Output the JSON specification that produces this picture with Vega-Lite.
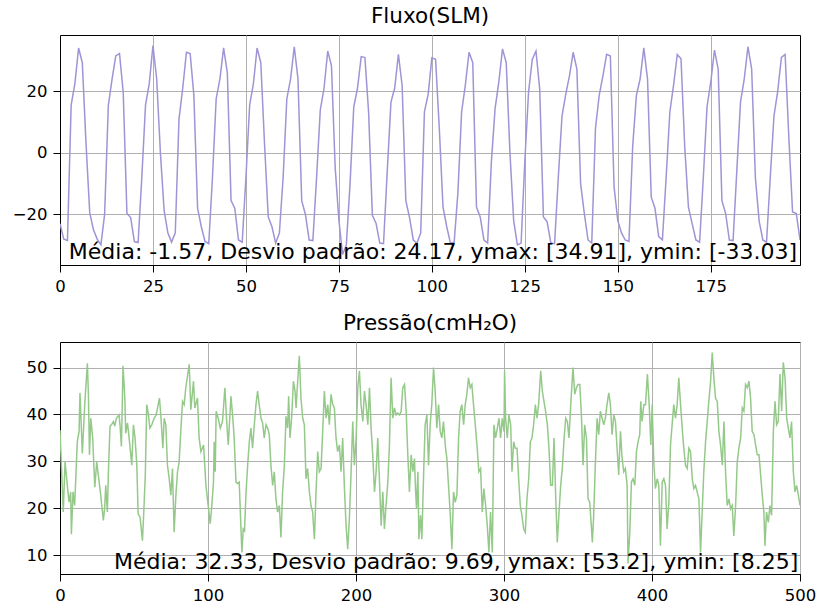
{
 "$schema": "https://vega.github.io/schema/vega-lite/v6.json",
 "padding": {"left": 11, "top": 5, "right": 10, "bottom": 5},
 "spacing": 17,
 "config": {
  "font": "DejaVu Sans",
  "view": {"stroke": "black", "strokeWidth": 1},
  "axis": {"labelFont": "DejaVu Sans", "labelFontSize": 16.5, "labelColor": "black", "tickColor": "black", "domainColor": "black", "tickSize": 7, "labelPadding": 6, "gridColor": "#b0b0b0", "gridWidth": 1, "domainWidth": 1, "tickWidth": 1, "labelFlush": false, "labelOverlap": false},
  "title": {"font": "DejaVu Sans", "fontSize": 21.5, "fontWeight": "normal", "color": "black", "offset": 8}
 },
 "datasets": {
  "fluxo": [
   {"t":0,"v":-23},{"t":1,"v":-28},{"t":2,"v":-28.5},{"t":3,"v":15.5},{"t":4,"v":22.5},{"t":5,"v":34.1},{"t":6,"v":29.3},{"t":7,"v":3},{"t":8,"v":-19.5},{"t":9,"v":-25},
   {"t":10,"v":-28},{"t":11,"v":-29.9},{"t":12,"v":-20},{"t":13,"v":15.5},{"t":14,"v":24},{"t":15,"v":31.5},{"t":16,"v":32.3},{"t":17,"v":19.7},{"t":18,"v":-19.7},{"t":19,"v":-21},
   {"t":20,"v":-28.8},{"t":21,"v":-29.1},{"t":22,"v":-8},{"t":23,"v":15.5},{"t":24,"v":22.5},{"t":25,"v":34.91},{"t":26,"v":24},{"t":27,"v":0},{"t":28,"v":-18.7},{"t":29,"v":-26},
   {"t":30,"v":-29},{"t":31,"v":-26},{"t":32,"v":11},{"t":33,"v":21},{"t":34,"v":32.7},{"t":35,"v":32.3},{"t":36,"v":18.7},{"t":37,"v":-18},{"t":38,"v":-24},{"t":39,"v":-28.8},
   {"t":40,"v":-29.5},{"t":41,"v":-8},{"t":42,"v":17.6},{"t":43,"v":24},{"t":44,"v":34.1},{"t":45,"v":26},{"t":46,"v":-15.5},{"t":47,"v":-18},{"t":48,"v":-28.3},{"t":49,"v":-29},
   {"t":50,"v":-8},{"t":51,"v":15.5},{"t":52,"v":22.4},{"t":53,"v":34.1},{"t":54,"v":29.3},{"t":55,"v":3},{"t":56,"v":-20.8},{"t":57,"v":-24},{"t":58,"v":-29.3},{"t":59,"v":-26},
   {"t":60,"v":-8},{"t":61,"v":17.6},{"t":62,"v":24},{"t":63,"v":34.5},{"t":64,"v":24},{"t":65,"v":-15.5},{"t":66,"v":-20},{"t":67,"v":-28.3},{"t":68,"v":-28.5},{"t":69,"v":-8},
   {"t":70,"v":14},{"t":71,"v":21},{"t":72,"v":33.1},{"t":73,"v":28.3},{"t":74,"v":-4.8},{"t":75,"v":-21.9},{"t":76,"v":-33.03},{"t":77,"v":-29.9},{"t":78,"v":-10},{"t":79,"v":15},
   {"t":80,"v":21},{"t":81,"v":31.3},{"t":82,"v":31},{"t":83,"v":13},{"t":84,"v":-20.3},{"t":85,"v":-22.9},{"t":86,"v":-29.3},{"t":87,"v":-29.5},{"t":88,"v":-6},{"t":89,"v":16.5},
   {"t":90,"v":21},{"t":91,"v":32},{"t":92,"v":22},{"t":93,"v":-15.5},{"t":94,"v":-21},{"t":95,"v":-28.3},{"t":96,"v":-29.3},{"t":97,"v":-26},{"t":98,"v":13.3},{"t":99,"v":19},
   {"t":100,"v":30.9},{"t":101,"v":30.4},{"t":102,"v":8},{"t":103,"v":-17.6},{"t":104,"v":-24},{"t":105,"v":-29.3},{"t":106,"v":-29},{"t":107,"v":-13},{"t":108,"v":13.3},{"t":109,"v":22},
   {"t":110,"v":32.7},{"t":111,"v":29.3},{"t":112,"v":-17.6},{"t":113,"v":-20.8},{"t":114,"v":-28.3},{"t":115,"v":-29.3},{"t":116,"v":-3},{"t":117,"v":14.4},{"t":118,"v":23},{"t":119,"v":33.8},
   {"t":120,"v":29.3},{"t":121,"v":0},{"t":122,"v":-22},{"t":123,"v":-29.9},{"t":124,"v":-29.3},{"t":125,"v":-2.7},{"t":126,"v":19.7},{"t":127,"v":30.4},{"t":128,"v":33.1},{"t":129,"v":20.8},
   {"t":130,"v":-20.8},{"t":131,"v":-22.4},{"t":132,"v":-29.3},{"t":133,"v":-29.5},{"t":134,"v":-8},{"t":135,"v":12},{"t":136,"v":19},{"t":137,"v":25},{"t":138,"v":32.7},{"t":139,"v":27.2},
   {"t":140,"v":-10},{"t":141,"v":-19.7},{"t":142,"v":-28.3},{"t":143,"v":-29.3},{"t":144,"v":8},{"t":145,"v":18.7},{"t":146,"v":25},{"t":147,"v":32},{"t":148,"v":31.5},{"t":149,"v":-11},
   {"t":150,"v":-22},{"t":151,"v":-26},{"t":152,"v":-28.3},{"t":153,"v":-28.8},{"t":154,"v":2},{"t":155,"v":18.7},{"t":156,"v":24},{"t":157,"v":34.1},{"t":158,"v":24},{"t":159,"v":-14.4},
   {"t":160,"v":-18},{"t":161,"v":-27.2},{"t":162,"v":-28.3},{"t":163,"v":-8},{"t":164,"v":13.3},{"t":165,"v":22},{"t":166,"v":32},{"t":167,"v":30.6},{"t":168,"v":2},{"t":169,"v":-17.6},
   {"t":170,"v":-23},{"t":171,"v":-28.3},{"t":172,"v":-29},{"t":173,"v":-8},{"t":174,"v":15},{"t":175,"v":23},{"t":176,"v":33.4},{"t":177,"v":27.2},{"t":178,"v":-15.5},{"t":179,"v":-19.7},
   {"t":180,"v":-28.3},{"t":181,"v":-28.5},{"t":182,"v":-6},{"t":183,"v":16.5},{"t":184,"v":24},{"t":185,"v":34.5},{"t":186,"v":27.2},{"t":187,"v":-8},{"t":188,"v":-22},{"t":189,"v":-28.3},
   {"t":190,"v":-29},{"t":191,"v":-8},{"t":192,"v":12},{"t":193,"v":20},{"t":194,"v":31},{"t":195,"v":32},{"t":196,"v":5},{"t":197,"v":-19.2},{"t":198,"v":-19.7},{"t":199,"v":-28.3}
  ],
  "pressao": [
   {"t":0,"v":36.7},{"t":2.2,"v":19.2},{"t":3.4,"v":29.9},{"t":5.4,"v":23.5},{"t":6.1,"v":21.3},{"t":7.2,"v":23.5},{"t":7.7,"v":14.5},{"t":8.8,"v":23.5},{"t":9.9,"v":20.6},{"t":11.7,"v":34.2},
   {"t":12.9,"v":36.4},{"t":13.5,"v":44.6},{"t":15.1,"v":31.7},{"t":16.7,"v":42.1},{"t":18.5,"v":50.9},{"t":19.2,"v":44.3},{"t":19.9,"v":31.4},{"t":20.8,"v":39.2},{"t":22.1,"v":35.0},{"t":23.5,"v":24.5},
   {"t":24.8,"v":29.9},{"t":26.2,"v":26.3},{"t":27.5,"v":22.8},{"t":29.3,"v":17.4},{"t":30.2,"v":20.2},{"t":30.9,"v":24.9},{"t":32.0,"v":19.2},{"t":32.7,"v":27.8},{"t":33.8,"v":37.5},{"t":34.7,"v":37.8},
   {"t":36.1,"v":38.5},{"t":37.0,"v":37.5},{"t":38.1,"v":39.2},{"t":39.9,"v":39.9},{"t":40.6,"v":37.5},{"t":41.5,"v":33.2},{"t":42.6,"v":50.4},{"t":43.8,"v":43.5},{"t":44.4,"v":36.0},{"t":45.6,"v":38.2},
   {"t":46.7,"v":35.0},{"t":48.5,"v":29.2},{"t":49.6,"v":37.8},{"t":50.7,"v":35.0},{"t":51.9,"v":29.2},{"t":52.8,"v":18.8},{"t":54.1,"v":18.1},{"t":55.7,"v":13.1},{"t":56.8,"v":20.6},{"t":57.7,"v":27.8},
   {"t":58.6,"v":42.1},{"t":59.8,"v":39.9},{"t":60.7,"v":37.1},{"t":62.0,"v":37.8},{"t":63.6,"v":39.2},{"t":65.0,"v":39.9},{"t":67.2,"v":43.5},{"t":68.1,"v":39.9},{"t":69.5,"v":32.8},{"t":70.4,"v":39.2},
   {"t":71.5,"v":37.8},{"t":72.6,"v":29.2},{"t":73.8,"v":26.3},{"t":74.9,"v":22.8},{"t":76.0,"v":28.5},{"t":77.1,"v":14.9},{"t":78.3,"v":22.8},{"t":79.4,"v":27.8},{"t":80.5,"v":29.9},{"t":81.6,"v":36.4},
   {"t":82.8,"v":42.8},{"t":83.9,"v":42.1},{"t":85.0,"v":45.7},{"t":87.3,"v":50.7},{"t":88.4,"v":41.0},{"t":90.2,"v":47.1},{"t":91.1,"v":41.4},{"t":92.9,"v":43.5},{"t":94.0,"v":35.0},{"t":95.2,"v":32.1},
   {"t":97.0,"v":33.5},{"t":98.6,"v":24.9},{"t":100.1,"v":20.6},{"t":101.5,"v":16.7},{"t":102.6,"v":20.6},{"t":103.7,"v":25.6},{"t":104.2,"v":34.2},{"t":104.9,"v":27.8},{"t":105.5,"v":40.7},{"t":106.9,"v":39.2},
   {"t":108.3,"v":37.1},{"t":109.8,"v":38.5},{"t":111.4,"v":45.7},{"t":112.5,"v":39.2},{"t":113.7,"v":33.5},{"t":115.5,"v":43.9},{"t":116.6,"v":39.9},{"t":117.7,"v":35.0},{"t":118.9,"v":25.6},{"t":120.0,"v":25.3},
   {"t":121.1,"v":25.6},{"t":122.2,"v":16.3},{"t":122.9,"v":10.6},{"t":123.8,"v":15.6},{"t":124.7,"v":15.2},{"t":125.6,"v":22.8},{"t":126.8,"v":29.2},{"t":127.9,"v":34.2},{"t":129.0,"v":37.1},{"t":130.1,"v":32.8},
   {"t":131.3,"v":37.8},{"t":132.4,"v":42.1},{"t":133.5,"v":45.0},{"t":134.6,"v":42.1},{"t":135.8,"v":39.2},{"t":136.9,"v":38.2},{"t":138.0,"v":35.0},{"t":139.2,"v":37.8},{"t":140.3,"v":37.1},{"t":141.4,"v":35.7},
   {"t":142.5,"v":29.2},{"t":143.7,"v":24.9},{"t":144.8,"v":27.8},{"t":145.9,"v":22.0},{"t":147.0,"v":19.2},{"t":148.2,"v":20.6},{"t":149.3,"v":13.8},{"t":150.4,"v":23.5},{"t":151.6,"v":29.2},{"t":152.7,"v":39.6},
   {"t":153.8,"v":37.1},{"t":154.5,"v":43.9},{"t":155.4,"v":35.0},{"t":156.5,"v":39.2},{"t":157.7,"v":47.1},{"t":158.8,"v":45.0},{"t":159.5,"v":41.4},{"t":160.6,"v":47.1},{"t":161.7,"v":52.5},{"t":162.8,"v":43.5},
   {"t":164.0,"v":39.2},{"t":165.1,"v":37.8},{"t":166.2,"v":26.3},{"t":167.3,"v":28.5},{"t":168.5,"v":23.5},{"t":169.6,"v":20.6},{"t":170.7,"v":19.2},{"t":171.9,"v":13.4},{"t":173.0,"v":23.5},{"t":174.1,"v":32.1},
   {"t":175.2,"v":27.8},{"t":176.4,"v":28.5},{"t":177.5,"v":36.4},{"t":178.6,"v":45.0},{"t":179.8,"v":39.2},{"t":180.9,"v":42.1},{"t":182.0,"v":37.8},{"t":183.1,"v":44.3},{"t":184.3,"v":42.1},{"t":185.4,"v":41.4},
   {"t":186.5,"v":35.0},{"t":187.6,"v":32.1},{"t":188.8,"v":33.5},{"t":189.9,"v":27.8},{"t":191.0,"v":35.0},{"t":192.2,"v":24.2},{"t":193.3,"v":16.3},{"t":194.4,"v":11.3},{"t":195.5,"v":17.7},{"t":196.7,"v":27.8},
   {"t":197.8,"v":38.5},{"t":198.9,"v":29.2},{"t":200.1,"v":35.0},{"t":201.2,"v":45.7},{"t":202.3,"v":49.3},{"t":203.4,"v":42.1},{"t":204.6,"v":38.5},{"t":205.7,"v":45.0},{"t":206.8,"v":42.1},{"t":208.0,"v":37.8},
   {"t":209.1,"v":45.7},{"t":210.2,"v":37.1},{"t":211.3,"v":31.4},{"t":212.5,"v":23.5},{"t":213.6,"v":27.8},{"t":214.7,"v":35.0},{"t":215.8,"v":26.3},{"t":217.0,"v":16.3},{"t":218.1,"v":23.5},{"t":219.2,"v":15.6},
   {"t":220.3,"v":20.6},{"t":221.5,"v":25.6},{"t":222.6,"v":33.5},{"t":223.7,"v":47.8},{"t":224.9,"v":39.2},{"t":226.0,"v":41.4},{"t":227.1,"v":39.9},{"t":228.2,"v":40.3},{"t":229.4,"v":39.9},{"t":230.5,"v":40.7},
   {"t":231.6,"v":45.7},{"t":232.8,"v":46.4},{"t":233.9,"v":40.7},{"t":235.0,"v":31.4},{"t":236.1,"v":23.5},{"t":237.3,"v":31.4},{"t":238.4,"v":27.8},{"t":239.5,"v":30.6},{"t":240.2,"v":24.2},{"t":240.9,"v":19.9},
   {"t":241.8,"v":27.8},{"t":242.5,"v":13.4},{"t":243.6,"v":18.5},{"t":244.5,"v":13.4},{"t":245.8,"v":28.5},{"t":246.7,"v":37.8},{"t":247.9,"v":39.9},{"t":249.0,"v":29.2},{"t":250.1,"v":37.8},{"t":251.2,"v":42.1},
   {"t":252.4,"v":50.0},{"t":253.5,"v":45.0},{"t":254.6,"v":37.1},{"t":255.8,"v":42.1},{"t":256.9,"v":36.4},{"t":258.0,"v":35.0},{"t":259.1,"v":38.5},{"t":260.3,"v":33.5},{"t":261.4,"v":30.6},{"t":262.5,"v":24.9},
   {"t":263.6,"v":19.2},{"t":264.8,"v":11.3},{"t":265.9,"v":23.5},{"t":267.0,"v":21.3},{"t":268.2,"v":22.8},{"t":269.3,"v":35.0},{"t":270.4,"v":40.7},{"t":271.5,"v":42.1},{"t":272.7,"v":37.8},{"t":273.8,"v":42.1},
   {"t":274.9,"v":44.3},{"t":276.0,"v":47.8},{"t":277.2,"v":45.7},{"t":278.3,"v":46.4},{"t":279.4,"v":42.1},{"t":280.6,"v":37.8},{"t":281.9,"v":32.8},{"t":283.0,"v":27.8},{"t":284.2,"v":28.5},{"t":285.3,"v":19.2},
   {"t":286.4,"v":24.2},{"t":287.6,"v":20.6},{"t":288.7,"v":16.3},{"t":289.8,"v":10.6},{"t":290.9,"v":19.2},{"t":292.1,"v":10.6},{"t":293.2,"v":37.8},{"t":294.3,"v":35.0},{"t":295.5,"v":37.1},{"t":296.6,"v":39.2},
   {"t":297.7,"v":35.0},{"t":298.8,"v":39.2},{"t":300.0,"v":36.4},{"t":300.4,"v":49.3},{"t":301.1,"v":39.2},{"t":302.2,"v":35.0},{"t":303.3,"v":39.9},{"t":304.5,"v":37.8},{"t":305.4,"v":27.8},{"t":306.5,"v":34.2},
   {"t":307.6,"v":32.8},{"t":308.8,"v":32.8},{"t":309.9,"v":26.3},{"t":311.0,"v":20.6},{"t":312.1,"v":18.5},{"t":313.3,"v":15.6},{"t":314.4,"v":14.9},{"t":315.5,"v":22.0},{"t":316.7,"v":26.3},{"t":317.8,"v":34.2},
   {"t":318.9,"v":35.0},{"t":320.0,"v":37.8},{"t":321.2,"v":42.1},{"t":322.3,"v":39.2},{"t":323.4,"v":42.1},{"t":324.8,"v":49.3},{"t":325.9,"v":45.0},{"t":327.0,"v":42.8},{"t":328.1,"v":40.7},{"t":329.3,"v":37.8},
   {"t":330.4,"v":32.8},{"t":331.5,"v":24.9},{"t":332.7,"v":24.9},{"t":333.8,"v":35.0},{"t":334.9,"v":22.8},{"t":336.0,"v":12.7},{"t":337.2,"v":19.2},{"t":338.3,"v":24.9},{"t":339.4,"v":28.5},{"t":340.6,"v":35.0},
   {"t":341.7,"v":39.2},{"t":342.8,"v":38.5},{"t":343.9,"v":35.0},{"t":345.1,"v":42.1},{"t":346.6,"v":50.0},{"t":347.8,"v":44.3},{"t":348.9,"v":45.7},{"t":350.0,"v":46.4},{"t":351.2,"v":46.4},{"t":352.3,"v":39.9},
   {"t":353.4,"v":29.2},{"t":354.5,"v":37.8},{"t":355.7,"v":35.0},{"t":356.8,"v":22.0},{"t":357.9,"v":21.3},{"t":359.0,"v":16.3},{"t":359.7,"v":12.7},{"t":360.6,"v":18.5},{"t":361.7,"v":29.2},{"t":362.9,"v":39.2},
   {"t":364.0,"v":35.7},{"t":365.1,"v":40.7},{"t":366.3,"v":39.2},{"t":367.4,"v":37.8},{"t":368.5,"v":39.2},{"t":369.6,"v":42.1},{"t":370.8,"v":44.6},{"t":371.9,"v":42.1},{"t":373.0,"v":35.7},{"t":374.2,"v":39.9},
   {"t":375.3,"v":38.5},{"t":376.4,"v":32.8},{"t":377.5,"v":27.1},{"t":378.7,"v":36.4},{"t":379.8,"v":30.6},{"t":380.9,"v":27.8},{"t":382.0,"v":28.5},{"t":383.2,"v":24.9},{"t":383.8,"v":8.25},{"t":385.0,"v":14.9},
   {"t":386.1,"v":25.6},{"t":387.2,"v":26.3},{"t":388.4,"v":24.9},{"t":389.5,"v":32.1},{"t":390.6,"v":34.2},{"t":391.7,"v":35.7},{"t":392.4,"v":42.8},{"t":393.3,"v":38.5},{"t":394.5,"v":42.1},{"t":395.6,"v":42.1},
   {"t":396.9,"v":48.6},{"t":398.1,"v":42.1},{"t":399.2,"v":33.5},{"t":400.1,"v":42.1},{"t":401.2,"v":29.9},{"t":402.3,"v":24.2},{"t":403.5,"v":26.3},{"t":404.6,"v":24.9},{"t":405.7,"v":12.0},{"t":406.9,"v":25.6},
   {"t":408.0,"v":26.3},{"t":409.1,"v":24.9},{"t":410.2,"v":15.6},{"t":411.4,"v":21.3},{"t":412.5,"v":33.5},{"t":413.6,"v":37.8},{"t":414.7,"v":42.1},{"t":415.9,"v":39.2},{"t":417.0,"v":42.1},{"t":418.1,"v":47.8},
   {"t":419.3,"v":42.1},{"t":420.4,"v":37.1},{"t":421.5,"v":32.8},{"t":422.6,"v":29.2},{"t":423.8,"v":28.5},{"t":424.9,"v":32.8},{"t":426.0,"v":32.1},{"t":427.2,"v":26.3},{"t":428.3,"v":24.2},{"t":429.4,"v":24.9},
   {"t":430.5,"v":23.5},{"t":431.7,"v":22.0},{"t":432.8,"v":10.6},{"t":433.9,"v":19.2},{"t":435.0,"v":27.8},{"t":436.2,"v":34.2},{"t":437.3,"v":38.5},{"t":438.4,"v":42.8},{"t":439.6,"v":47.1},{"t":440.7,"v":53.2},
   {"t":441.8,"v":47.8},{"t":442.9,"v":43.5},{"t":444.1,"v":42.8},{"t":445.2,"v":36.4},{"t":446.3,"v":33.5},{"t":447.5,"v":29.2},{"t":448.6,"v":38.5},{"t":449.7,"v":27.8},{"t":450.8,"v":20.6},{"t":452.0,"v":22.0},
   {"t":453.1,"v":19.9},{"t":454.2,"v":20.6},{"t":455.3,"v":14.1},{"t":456.5,"v":20.6},{"t":457.6,"v":29.9},{"t":458.7,"v":32.8},{"t":459.9,"v":35.0},{"t":461.0,"v":41.4},{"t":462.1,"v":40.7},{"t":463.2,"v":46.4},
   {"t":464.4,"v":45.7},{"t":465.5,"v":47.1},{"t":466.6,"v":43.5},{"t":467.7,"v":36.4},{"t":468.9,"v":35.7},{"t":470.0,"v":33.5},{"t":471.1,"v":31.4},{"t":472.3,"v":31.4},{"t":473.4,"v":27.1},{"t":474.5,"v":22.8},
   {"t":475.6,"v":19.2},{"t":476.3,"v":12.0},{"t":477.4,"v":19.2},{"t":478.6,"v":17.0},{"t":479.7,"v":20.6},{"t":480.8,"v":18.5},{"t":482.0,"v":36.4},{"t":483.1,"v":42.8},{"t":484.2,"v":37.8},{"t":485.3,"v":38.5},
   {"t":486.5,"v":48.6},{"t":487.6,"v":40.7},{"t":488.7,"v":51.1},{"t":489.9,"v":47.8},{"t":491.0,"v":39.2},{"t":492.1,"v":37.1},{"t":493.2,"v":35.0},{"t":494.3,"v":38.5},{"t":495.5,"v":27.8},{"t":496.6,"v":23.5},
   {"t":497.7,"v":24.9},{"t":498.9,"v":22.8},{"t":500.0,"v":20.6}
  ]
 },
 "vconcat": [
  {
   "title": "Fluxo(SLM)",
   "width": 740,
   "height": 230,
   "layer": [
    {
     "data": {"name": "fluxo"},
     "mark": {"type": "line", "color": "#a193d6", "strokeWidth": 1.5, "clip": true},
     "encoding": {
      "x": {"field": "t", "type": "quantitative", "scale": {"domain": [0, 199], "nice": false, "zero": false}, "axis": {"values": [0, 25, 50, 75, 100, 125, 150, 175], "grid": true, "title": null}},
      "y": {"field": "v", "type": "quantitative", "scale": {"domain": [-36.43, 38.31], "nice": false, "zero": false}, "axis": {"values": [-20, 0, 20], "grid": true, "title": null}}
     }
    },
    {
     "data": {"values": [{"label": "Média: -1.57, Desvio padrão: 24.17, ymax: [34.91], ymin: [-33.03]"}]},
     "mark": {"type": "text", "align": "right", "baseline": "alphabetic", "fontSize": 22, "color": "black", "font": "DejaVu Sans"},
     "encoding": {"x": {"datum": 198.2}, "y": {"datum": -34.5}, "text": {"field": "label"}}
    }
   ]
  },
  {
   "title": "Pressão(cmH₂O)",
   "width": 740,
   "height": 232,
   "layer": [
    {
     "data": {"name": "pressao"},
     "mark": {"type": "line", "color": "#95c98a", "strokeWidth": 1.5, "clip": true},
     "encoding": {
      "x": {"field": "t", "type": "quantitative", "scale": {"domain": [0, 500], "nice": false, "zero": false}, "axis": {"values": [0, 100, 200, 300, 400, 500], "grid": true, "title": null}},
      "y": {"field": "v", "type": "quantitative", "scale": {"domain": [6.0, 55.45], "nice": false, "zero": false}, "axis": {"values": [10, 20, 30, 40, 50], "grid": true, "title": null}}
     }
    },
    {
     "data": {"values": [{"label": "Média: 32.33, Desvio padrão: 9.69, ymax: [53.2], ymin: [8.25]"}]},
     "mark": {"type": "text", "align": "right", "baseline": "alphabetic", "fontSize": 22, "color": "black", "font": "DejaVu Sans"},
     "encoding": {"x": {"datum": 498.8}, "y": {"datum": 7.1}, "text": {"field": "label"}}
    }
   ]
  }
 ]
}
